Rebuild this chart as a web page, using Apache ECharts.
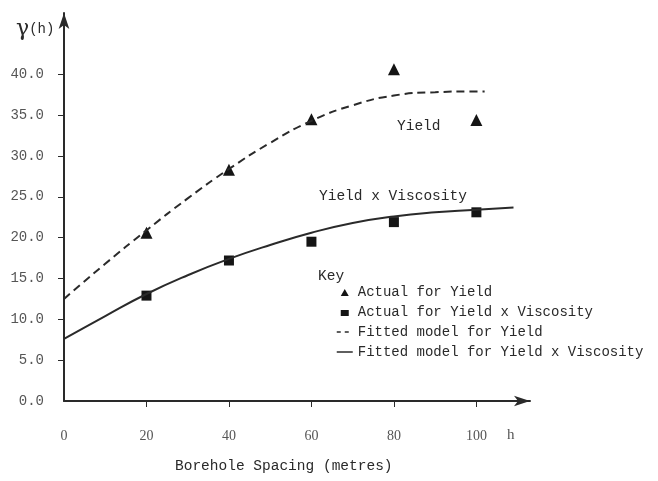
<!DOCTYPE html>
<html><head><meta charset="utf-8">
<script src="https://cdn.jsdelivr.net/npm/echarts@6/dist/echarts.min.js"></script>
<style>html,body{margin:0;padding:0;background:#fff}#c{width:658px;height:481px}</style>
</head><body><div id="c"></div>
<script>
// Data
const spacing = [20, 40, 60, 80, 100];
const actualYield = [20.6, 28.3, 34.5, 40.6, 34.4];
const actualYieldVisc = [12.9, 17.2, 19.5, 21.9, 23.1];
const fitX = [0, 10, 20, 30, 40, 50, 60, 70, 80, 90, 100, 102];
const fitYield = [12.5, 16.8, 20.9, 24.8, 28.4, 31.6, 34.3, 36.2, 37.4, 37.8, 37.9, 37.9];
const fitX2 = [0, 10, 20, 30, 40, 50, 60, 70, 80, 90, 100, 109];
const fitYieldVisc = [7.6, 10.4, 13.1, 15.4, 17.4, 19.1, 20.6, 21.8, 22.6, 23.1, 23.4, 23.7];
const yTicks = [0, 5, 10, 15, 20, 25, 30, 35, 40];
const xTicks = [0, 20, 40, 60, 80, 100];

const mono = 'Liberation Mono';
const ink = '#2a2a2a';
const pad = 'M0,0L0.01,0L0.01,0.01Z M16,12L15.99,12L15.99,11.99Z ';
const chart = echarts.init(document.getElementById('c'));
chart.setOption({
  animation: false,
  backgroundColor: '#ffffff',
  grid: { left: 64, right: 128, top: 13, bottom: 80 },
  xAxis: {
    type: 'value', min: 0, max: 113,
    splitLine: { show: false },
    axisLine: { lineStyle: { color: ink, width: 2 }, symbol: ['none', 'arrow'], symbolSize: [8, 16] },
    axisTick: { customValues: xTicks.slice(1), length: 6, lineStyle: { color: ink, width: 1 } },
    axisLabel: { customValues: xTicks, margin: 28, color: '#555', fontFamily: 'Liberation Serif', fontSize: 14 }
  },
  yAxis: {
    type: 'value', min: 0, max: 47.5,
    splitLine: { show: false },
    axisLine: { lineStyle: { color: ink, width: 2 }, symbol: ['none', 'arrow'], symbolSize: [8, 16] },
    axisTick: { customValues: yTicks.slice(1), length: 6, lineStyle: { color: ink, width: 1 } },
    axisLabel: { customValues: yTicks, margin: 20, color: '#555', fontFamily: mono, fontSize: 14,
      formatter: v => v.toFixed(1) }
  },
  legend: {
    orient: 'vertical', left: 331, top: 280, itemGap: 6, itemWidth: 16, itemHeight: 12,
    textStyle: { fontFamily: mono, fontSize: 14, color: ink },
    data: [
      { name: 'Actual for Yield', icon: 'path://' + pad + 'M4,10L8,3L12,10Z' },
      { name: 'Actual for Yield x Viscosity', icon: 'path://' + pad + 'M4,4L12,4L12,10L4,10Z' },
      { name: 'Fitted model for Yield', itemStyle: { color: 'rgba(0,0,0,0)', borderWidth: 0 },
        lineStyle: { type: [4, 4], width: 1.5 } },
      { name: 'Fitted model for Yield x Viscosity', itemStyle: { color: 'rgba(0,0,0,0)', borderWidth: 0 },
        lineStyle: { width: 1.5 } }
    ]
  },
  series: [
    { name: 'Fitted model for Yield', type: 'line', smooth: true, symbol: 'none',
      data: fitX.map((x, i) => [x, fitYield[i]]),
      lineStyle: { color: ink, width: 2, type: [8, 5] }, itemStyle: { color: ink } },
    { name: 'Fitted model for Yield x Viscosity', type: 'line', smooth: true, symbol: 'none',
      data: fitX2.map((x, i) => [x, fitYieldVisc[i]]),
      lineStyle: { color: ink, width: 2 }, itemStyle: { color: ink } },
    { name: 'Actual for Yield', type: 'scatter', symbol: 'triangle', symbolSize: 12,
      data: spacing.map((x, i) => [x, actualYield[i]]), itemStyle: { color: '#151515', opacity: 1 } },
    { name: 'Actual for Yield x Viscosity', type: 'scatter', symbol: 'rect', symbolSize: 10,
      data: spacing.map((x, i) => [x, actualYieldVisc[i]]), itemStyle: { color: '#151515', opacity: 1 } }
  ],
  graphic: [
    { type: 'text', left: 16, top: 18, style: { text: '{g|γ}{s|(h)}', rich: {
        g: { fontFamily: 'DejaVu Serif', fontSize: 22, fill: ink },
        s: { fontFamily: mono, fontSize: 14, fill: ink } } } },
    { type: 'text', left: 507, top: 428, style: { text: 'h', fontFamily: 'Liberation Serif', fontSize: 15, fill: '#555' } },
    { type: 'text', left: 175, top: 459, style: { text: 'Borehole Spacing (metres)', fontFamily: mono, fontSize: 14.5, fill: ink } },
    { type: 'text', left: 397, top: 119, style: { text: 'Yield', fontFamily: mono, fontSize: 14.5, fill: ink } },
    { type: 'text', left: 319, top: 189, style: { text: 'Yield x Viscosity', fontFamily: mono, fontSize: 14.5, fill: ink } },
    { type: 'text', left: 318, top: 269, style: { text: 'Key', fontFamily: mono, fontSize: 14.5, fill: ink } }
  ]
});
</script></body></html>
